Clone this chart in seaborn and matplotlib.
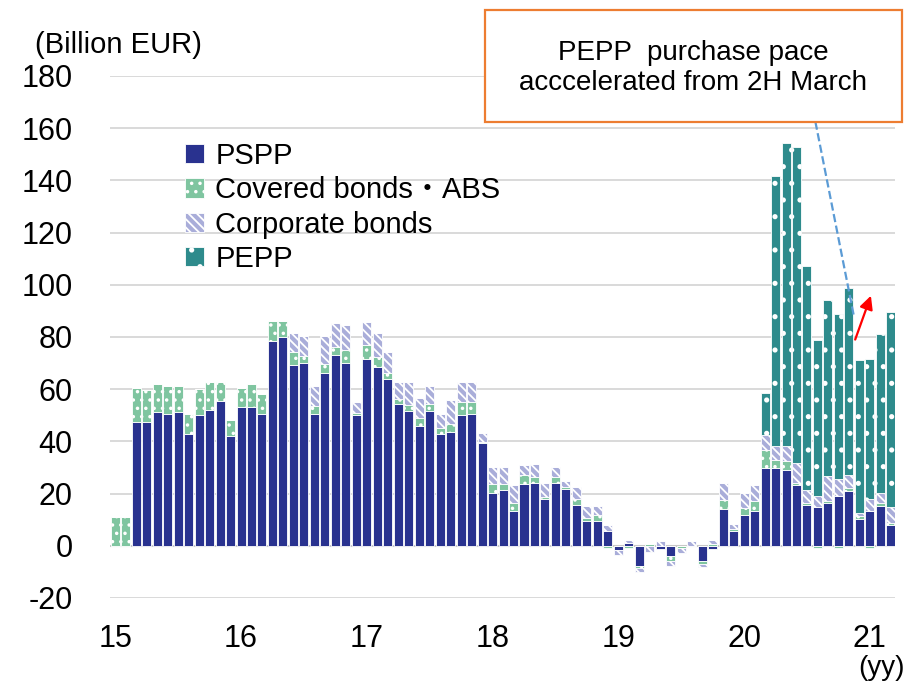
import numpy as np
import pandas as pd
import seaborn as sns
import matplotlib.pyplot as plt
from matplotlib.patches import Patch, Rectangle

sns.set_theme(style="whitegrid")
plt.rcParams['font.family'] = ['Liberation Sans', 'Noto Sans CJK JP', 'DejaVu Sans']
plt.rcParams['axes.unicode_minus'] = False
plt.rcParams['hatch.linewidth'] = 1.3
plt.rcParams['text.color'] = 'black'

# monthly net purchases, Jan 2015 .. Mar 2021 (billion EUR)
pspp = [0, 0, 47.4, 47.4, 51.4, 50.6, 51.4, 43.0, 50.0, 52.2, 55.3, 42.2,
        53.0, 53.0, 50.6, 78.5, 80.0, 69.2, 70.1, 50.6, 66.2, 73.1, 70.1, 50.0,
        71.5, 68.6, 64.0, 54.5, 51.5, 46.0, 51.5, 43.0, 43.6, 50.0, 50.4, 39.5,
        20.3, 21.2, 13.2, 23.5, 24.1, 18.1, 24.1, 21.8, 15.8, 9.4, 9.4, 5.5,
        -1.5, 0.9, -7.9, 0, -1.2, -4.1, 0, 0, -6.0, -1.4, 14.1, 5.7,
        11.9, 13.4, 29.7, 29.8, 28.9, 23.4, 15.7, 14.7, 16.4, 18.9, 20.8, 10.4,
        13.2, 15.1, 8.1]
covered = [11.0, 11.0, 13.1, 12.3, 10.6, 10.7, 9.9, 7.6, 9.9, 10.7, 7.6, 6.1,
           7.5, 9.0, 7.6, 7.7, 6.2, 5.2, 2.7, 3.0, 3.5, 2.9, 4.9, 0.9,
           5.4, 3.7, 2.0, 1.7, 2.6, 3.0, 2.9, 2.3, 2.9, 5.1, 4.5, 0.3,
           3.5, 2.6, 3.2, 3.5, 2.3, 0.6, 2.3, 0.8, 2.1, 1.2, 2.4, -0.8,
           -0.3, -0.9, -0.7, 0.8, 0, -1.9, -0.9, 0, -0.9, 0.8, 3.6, 0.6,
           2.7, 3.6, 6.8, 2.9, 3.5, 0.6, 0.7, -0.9, 0.6, -0.9, 1.3, 0.9,
           -0.9, 1.3, 0.6]
corporate = [0] * 17 + [7.1, 7.6, 7.7, 10.8, 9.3, 9.4, 4.1,
             9.0, 9.1, 8.4, 6.6, 8.7, 7.7, 6.9, 5.2, 9.3, 7.7, 7.7, 3.5,
             6.3, 6.3, 6.7, 4.0, 5.1, 5.4, 3.7, 2.1, 4.5, 4.8, 3.6, 2.3,
             -1.9, 1.4, -1.3, -2.2, 1.7, -1.6, -1.9, 1.9, -1.3, 1.5, 6.2, 2.2,
             5.5, 6.1, 6.1, 5.4, 5.7, 7.7, 4.8, 4.2, 9.6, 6.8, 5.1, 1.2,
             4.7, 3.8, 6.1]
pepp = [0] * 62 + [16.1, 103.7, 116.2, 121.1, 86.1, 59.9, 67.5, 63.0, 71.6, 58.5,
                   53.8, 61.0, 74.7]
year_labels = ["15", "16", "17", "18", "19", "20", "21"]

months = np.arange(len(pspp))
series = [
    ("PSPP", pspp, "#29328F", None),
    ("Covered bonds\u30fbABS", covered, "#7FC5A0", ".."),
    ("Corporate bonds", corporate, "#A9ADD9", "\\\\\\\\"),
    ("PEPP", pepp, "#2E8B8C", "."),
]

fig = plt.figure(figsize=(9.19, 6.83), dpi=100)
ax = fig.add_axes([0.1197, 0.1245, 0.8542, 0.7643])

pos_base = np.zeros(len(months))
neg_base = np.zeros(len(months))
for name, vals, col, hatch in series:
    vals = np.asarray(vals, dtype=float)
    bottom = np.where(vals >= 0, pos_base, neg_base)
    df = pd.DataFrame({"month": months, "value": vals})
    sns.barplot(data=df, x="month", y="value", bottom=bottom, color=col,
                saturation=1, errorbar=None, width=0.86, hatch=hatch,
                edgecolor="white", linewidth=0.6, ax=ax, zorder=3)
    pos_base += np.where(vals >= 0, vals, 0)
    neg_base += np.where(vals < 0, vals, 0)

ax.set_xlim(-0.5, 74.4)
ax.set_ylim(-20, 180)
ax.set_yticks(range(-20, 181, 20))
ax.set_xticks(range(0, 73, 12))
ax.set_xticklabels(year_labels)
ax.set_xlabel("")
ax.set_ylabel("")
for s in ax.spines.values():
    s.set_visible(False)
ax.xaxis.grid(False)
ax.yaxis.grid(True, color="#D9D9D9", linewidth=1.4)
ax.axhline(0, color="#C8C8C8", linewidth=1.5, zorder=2)
ax.tick_params(axis="y", length=0, pad=27, labelsize=22, labelcolor="black")
ax.tick_params(axis="x", length=0, pad=19, labelsize=22, labelcolor="black")

handles = [Patch(facecolor=c, edgecolor="white", hatch=h, linewidth=0.6)
           for _, _, c, h in series]
ax.legend(handles, [s[0] for s in series], loc="upper left",
          bbox_to_anchor=(0.095, 0.874), frameon=False, fontsize=21,
          handlelength=0.65, handleheight=0.65, handletextpad=0.4,
          labelspacing=0.22, borderpad=0, borderaxespad=0)

# annotation: dashed pointer and red arrow
ax.plot([66.8, 70.5], [162.5, 87.5], linestyle="--", color="#5B9BD5",
        linewidth=1.6, zorder=6, clip_on=False)
ax.annotate("", xy=(72.1, 95.8), xytext=(70.6, 79),
            arrowprops=dict(arrowstyle="-|>", color="red", lw=1.6,
                            mutation_scale=20, shrinkA=0, shrinkB=0),
            zorder=7)

box = Rectangle((0.5277, 0.8214), 0.4538, 0.164, transform=fig.transFigure,
                facecolor="white", edgecolor="#ED7D31", linewidth=1.6, zorder=10)
fig.add_artist(box)
fig.text(0.7546, 0.922, "PEPP  purchase pace", ha="center", va="center",
         fontsize=20, zorder=11)
fig.text(0.7546, 0.878, "acccelerated from 2H March", ha="center", va="center",
         fontsize=20, zorder=11)

fig.text(0.038, 0.934, "(Billion EUR)", ha="left", va="center", fontsize=21)
fig.text(0.985, 0.022, "(yy)", ha="right", va="center", fontsize=20)

fig.savefig("out.png", dpi=100)
